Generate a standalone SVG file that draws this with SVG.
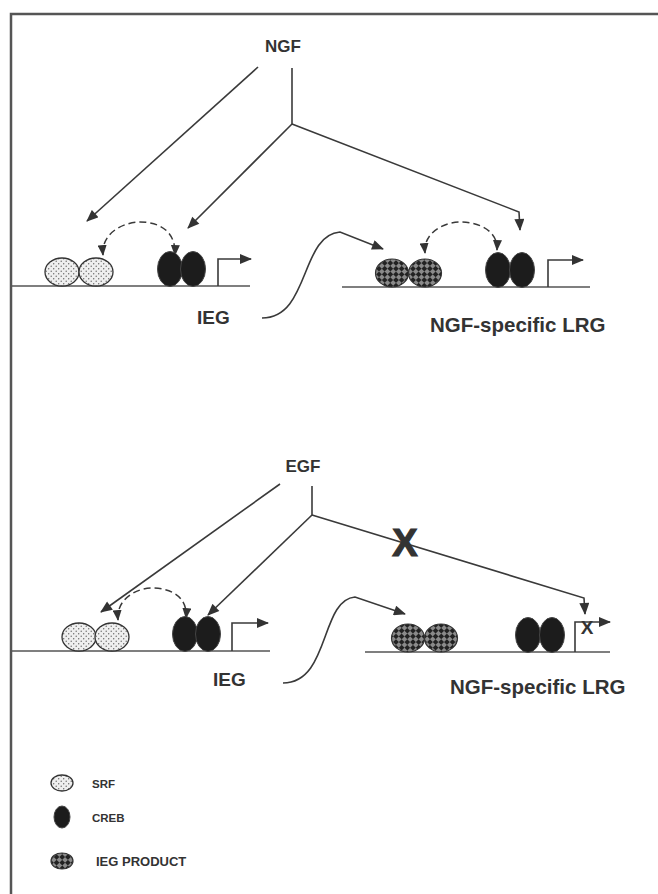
<svg xmlns="http://www.w3.org/2000/svg" width="658" height="894" viewBox="0 0 658 894">
<defs>
<pattern id="stip" width="5" height="5" patternUnits="userSpaceOnUse">
<rect width="5" height="5" fill="#efefef"/>
<circle cx="1.2" cy="1.2" r="0.7" fill="#666"/>
<circle cx="3.7" cy="3.7" r="0.7" fill="#666"/>
</pattern>
<pattern id="check" width="8" height="8" patternUnits="userSpaceOnUse" patternTransform="rotate(45)">
<rect width="8" height="8" fill="#8a8a8a"/>
<rect width="4" height="4" fill="#222"/>
<rect x="4" y="4" width="4" height="4" fill="#222"/>
</pattern>
<marker id="ah" viewBox="0 0 12 10" refX="11" refY="5" markerWidth="13" markerHeight="10" markerUnits="userSpaceOnUse" orient="auto-start-reverse">
<path d="M0,0 L12,5 L0,10 Z" fill="#333"/>
</marker>
<marker id="ahs" viewBox="0 0 12 10" refX="11" refY="5" markerWidth="11" markerHeight="9" markerUnits="userSpaceOnUse" orient="auto-start-reverse">
<path d="M0,0 L12,5 L0,10 Z" fill="#333"/>
</marker>
</defs>
<style>
.ln{fill:none;stroke:#3a3a3a;stroke-width:1.6}
.dna{fill:none;stroke:#555;stroke-width:1.7}
.dash{fill:none;stroke:#3a3a3a;stroke-width:1.5;stroke-dasharray:7,4}
.srf{fill:url(#stip);stroke:#333;stroke-width:1.3}
.ieg{fill:url(#check);stroke:#333;stroke-width:1.2}
.creb{fill:#1c1c1c;stroke:#444;stroke-width:1}
.lbl{font-family:"Liberation Sans",Arial,sans-serif;font-weight:bold;fill:#333}
</style>
<path d="M11,894 V14 H658" fill="none" stroke="#555" stroke-width="2.5"/>

<g id="connectors">
<line class="ln" x1="258" y1="67" x2="87" y2="221" marker-end="url(#ah)"/>
<line class="ln" x1="292" y1="68" x2="292" y2="124"/>
<line class="ln" x1="292" y1="124" x2="188" y2="228" marker-end="url(#ah)"/>
<polyline class="ln" points="292,124 519,212 520,230" marker-end="url(#ah)"/>
<path class="dash" d="M103,255 C101,232 125,222 140,222 C158,222 176,230 175,255" marker-start="url(#ahs)" marker-end="url(#ahs)"/>
<path class="ln" d="M262,318 C310,318 300,235 340,232 L383,249" marker-end="url(#ah)"/>
<path class="dash" d="M425,253 C423,232 445,222 460,222 C478,222 498,230 497,250" marker-start="url(#ahs)" marker-end="url(#ahs)"/>

<line class="ln" x1="280" y1="484" x2="101" y2="612" marker-end="url(#ah)"/>
<line class="ln" x1="312" y1="486" x2="312" y2="515"/>
<line class="ln" x1="312" y1="515" x2="208" y2="615" marker-end="url(#ah)"/>
<polyline class="ln" points="312,515 584,598 585,614" marker-end="url(#ah)"/>
<path class="dash" d="M118,620 C116,598 138,588 152,588 C170,588 188,596 186,618" marker-start="url(#ahs)" marker-end="url(#ahs)"/>
<path class="ln" d="M283,683 C330,683 320,600 355,597 L405,614" marker-end="url(#ah)"/>
</g>

<g id="ngf-label"><text class="lbl" x="283" y="52" font-size="17" text-anchor="middle">NGF</text></g>
<g id="egf-label"><text class="lbl" x="303" y="472" font-size="17" text-anchor="middle">EGF</text></g>
<g id="egf-block"><text class="lbl" x="405" y="556" font-size="38" text-anchor="middle" stroke="#333" stroke-width="1.2">X</text></g>

<g id="ieg-gene-top">
<line class="dna" x1="12" y1="286" x2="250" y2="286"/>
<ellipse class="srf" cx="62" cy="272" rx="17" ry="14"/>
<ellipse class="srf" cx="96" cy="272" rx="17" ry="14"/>
<ellipse class="creb" cx="170" cy="269" rx="12.5" ry="17.5"/>
<ellipse class="creb" cx="193" cy="269" rx="12.5" ry="17.5"/>
<polyline class="ln" points="218,286 218,259 251,259" marker-end="url(#ah)"/>
<text class="lbl" x="197" y="324" font-size="19">IEG</text>
</g>

<g id="lrg-gene-top">
<line class="dna" x1="342" y1="287" x2="590" y2="287"/>
<ellipse class="ieg" cx="392" cy="273" rx="16.5" ry="14"/>
<ellipse class="ieg" cx="425" cy="273" rx="16.5" ry="14"/>
<ellipse class="creb" cx="498" cy="270" rx="12.5" ry="17.5"/>
<ellipse class="creb" cx="522" cy="270" rx="12.5" ry="17.5"/>
<polyline class="ln" points="548,287 548,260 583,260" marker-end="url(#ah)"/>
<text class="lbl" x="430" y="332" font-size="20.5">NGF-specific LRG</text>
</g>

<g id="ieg-gene-bottom">
<line class="dna" x1="12" y1="651" x2="270" y2="651"/>
<ellipse class="srf" cx="79" cy="637" rx="17" ry="14"/>
<ellipse class="srf" cx="112" cy="637" rx="17" ry="14"/>
<ellipse class="creb" cx="185" cy="634" rx="12.5" ry="17.5"/>
<ellipse class="creb" cx="208" cy="634" rx="12.5" ry="17.5"/>
<polyline class="ln" points="232,651 232,623 268,623" marker-end="url(#ah)"/>
<text class="lbl" x="213" y="686" font-size="19">IEG</text>
</g>

<g id="lrg-gene-bottom">
<line class="dna" x1="365" y1="652" x2="610" y2="652"/>
<ellipse class="ieg" cx="408" cy="638" rx="16.5" ry="14"/>
<ellipse class="ieg" cx="441" cy="638" rx="16.5" ry="14"/>
<ellipse class="creb" cx="528" cy="635" rx="12.5" ry="17.5"/>
<ellipse class="creb" cx="552" cy="635" rx="12.5" ry="17.5"/>
<polyline class="ln" points="575,652 575,622 610,622" marker-end="url(#ah)"/>
<text class="lbl" x="587" y="634" font-size="19" text-anchor="middle">X</text>
<text class="lbl" x="450" y="694" font-size="20.5">NGF-specific LRG</text>
</g>

<g id="legend">
<ellipse class="srf" cx="62" cy="783" rx="11" ry="8"/>
<text class="lbl" x="92" y="788" font-size="11.5">SRF</text>
<ellipse class="creb" cx="62" cy="817" rx="8" ry="11"/>
<text class="lbl" x="92" y="822" font-size="11.5">CREB</text>
<ellipse class="ieg" cx="62" cy="861" rx="11" ry="8"/>
<text class="lbl" x="96" y="866" font-size="13">IEG PRODUCT</text>
</g>
</svg>
